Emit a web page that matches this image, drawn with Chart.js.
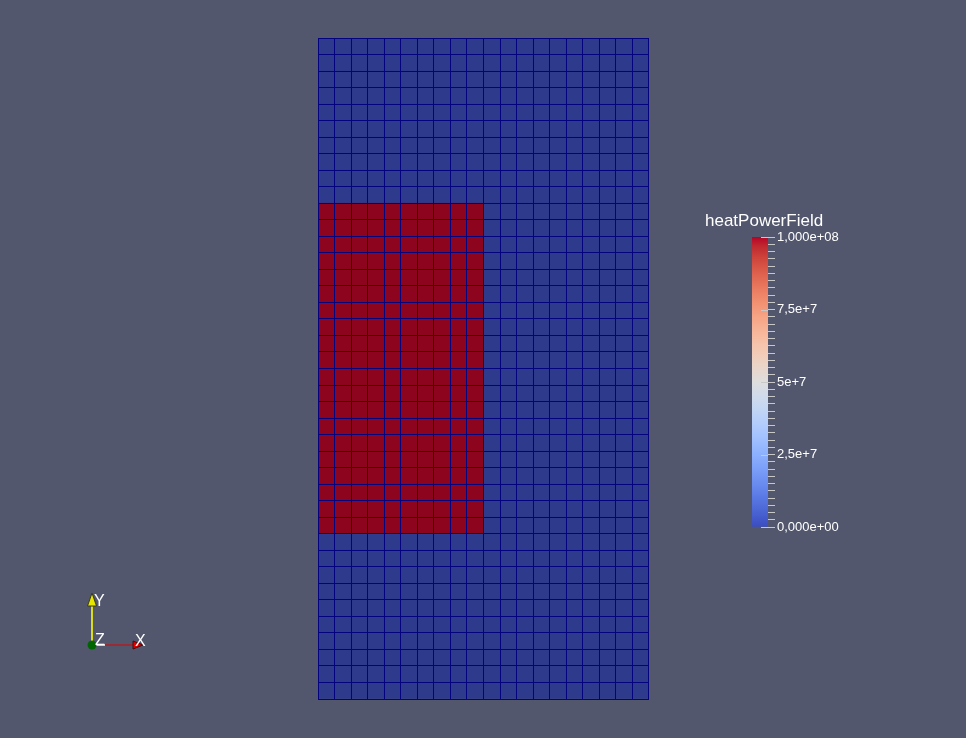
<!DOCTYPE html>
<html>
<head>
<meta charset="utf-8">
<title>heatPowerField</title>
<script src="https://cdn.jsdelivr.net/npm/chart.js@4.4.1/dist/chart.umd.min.js"></script>
<style>
  html, body { margin: 0; padding: 0; background: #52576e; overflow: hidden; }
  #wrap { position: relative; width: 966px; height: 738px; }
  canvas { position: absolute; left: 0; top: 0; }
</style>
</head>
<body>
<div id="wrap">
  <canvas id="meshChart" width="966" height="738"></canvas>
  <canvas id="barChart" width="966" height="738"></canvas>
</div>
<script>
// mesh columns (x cells), left to right
const columns = ['1', '2', '3', '4', '5', '6', '7', '8', '9', '10',
                 '11', '12', '13', '14', '15', '16', '17', '18', '19', '20'];

// heatPowerField per cell, rows listed from top to bottom
const H = 1e8;
const heatRows = [
  [0, 0, 0, 0, 0, 0, 0, 0, 0, 0, 0, 0, 0, 0, 0, 0, 0, 0, 0, 0],
  [0, 0, 0, 0, 0, 0, 0, 0, 0, 0, 0, 0, 0, 0, 0, 0, 0, 0, 0, 0],
  [0, 0, 0, 0, 0, 0, 0, 0, 0, 0, 0, 0, 0, 0, 0, 0, 0, 0, 0, 0],
  [0, 0, 0, 0, 0, 0, 0, 0, 0, 0, 0, 0, 0, 0, 0, 0, 0, 0, 0, 0],
  [0, 0, 0, 0, 0, 0, 0, 0, 0, 0, 0, 0, 0, 0, 0, 0, 0, 0, 0, 0],
  [0, 0, 0, 0, 0, 0, 0, 0, 0, 0, 0, 0, 0, 0, 0, 0, 0, 0, 0, 0],
  [0, 0, 0, 0, 0, 0, 0, 0, 0, 0, 0, 0, 0, 0, 0, 0, 0, 0, 0, 0],
  [0, 0, 0, 0, 0, 0, 0, 0, 0, 0, 0, 0, 0, 0, 0, 0, 0, 0, 0, 0],
  [0, 0, 0, 0, 0, 0, 0, 0, 0, 0, 0, 0, 0, 0, 0, 0, 0, 0, 0, 0],
  [0, 0, 0, 0, 0, 0, 0, 0, 0, 0, 0, 0, 0, 0, 0, 0, 0, 0, 0, 0],
  [H, H, H, H, H, H, H, H, H, H, 0, 0, 0, 0, 0, 0, 0, 0, 0, 0],
  [H, H, H, H, H, H, H, H, H, H, 0, 0, 0, 0, 0, 0, 0, 0, 0, 0],
  [H, H, H, H, H, H, H, H, H, H, 0, 0, 0, 0, 0, 0, 0, 0, 0, 0],
  [H, H, H, H, H, H, H, H, H, H, 0, 0, 0, 0, 0, 0, 0, 0, 0, 0],
  [H, H, H, H, H, H, H, H, H, H, 0, 0, 0, 0, 0, 0, 0, 0, 0, 0],
  [H, H, H, H, H, H, H, H, H, H, 0, 0, 0, 0, 0, 0, 0, 0, 0, 0],
  [H, H, H, H, H, H, H, H, H, H, 0, 0, 0, 0, 0, 0, 0, 0, 0, 0],
  [H, H, H, H, H, H, H, H, H, H, 0, 0, 0, 0, 0, 0, 0, 0, 0, 0],
  [H, H, H, H, H, H, H, H, H, H, 0, 0, 0, 0, 0, 0, 0, 0, 0, 0],
  [H, H, H, H, H, H, H, H, H, H, 0, 0, 0, 0, 0, 0, 0, 0, 0, 0],
  [H, H, H, H, H, H, H, H, H, H, 0, 0, 0, 0, 0, 0, 0, 0, 0, 0],
  [H, H, H, H, H, H, H, H, H, H, 0, 0, 0, 0, 0, 0, 0, 0, 0, 0],
  [H, H, H, H, H, H, H, H, H, H, 0, 0, 0, 0, 0, 0, 0, 0, 0, 0],
  [H, H, H, H, H, H, H, H, H, H, 0, 0, 0, 0, 0, 0, 0, 0, 0, 0],
  [H, H, H, H, H, H, H, H, H, H, 0, 0, 0, 0, 0, 0, 0, 0, 0, 0],
  [H, H, H, H, H, H, H, H, H, H, 0, 0, 0, 0, 0, 0, 0, 0, 0, 0],
  [H, H, H, H, H, H, H, H, H, H, 0, 0, 0, 0, 0, 0, 0, 0, 0, 0],
  [H, H, H, H, H, H, H, H, H, H, 0, 0, 0, 0, 0, 0, 0, 0, 0, 0],
  [H, H, H, H, H, H, H, H, H, H, 0, 0, 0, 0, 0, 0, 0, 0, 0, 0],
  [H, H, H, H, H, H, H, H, H, H, 0, 0, 0, 0, 0, 0, 0, 0, 0, 0],
  [0, 0, 0, 0, 0, 0, 0, 0, 0, 0, 0, 0, 0, 0, 0, 0, 0, 0, 0, 0],
  [0, 0, 0, 0, 0, 0, 0, 0, 0, 0, 0, 0, 0, 0, 0, 0, 0, 0, 0, 0],
  [0, 0, 0, 0, 0, 0, 0, 0, 0, 0, 0, 0, 0, 0, 0, 0, 0, 0, 0, 0],
  [0, 0, 0, 0, 0, 0, 0, 0, 0, 0, 0, 0, 0, 0, 0, 0, 0, 0, 0, 0],
  [0, 0, 0, 0, 0, 0, 0, 0, 0, 0, 0, 0, 0, 0, 0, 0, 0, 0, 0, 0],
  [0, 0, 0, 0, 0, 0, 0, 0, 0, 0, 0, 0, 0, 0, 0, 0, 0, 0, 0, 0],
  [0, 0, 0, 0, 0, 0, 0, 0, 0, 0, 0, 0, 0, 0, 0, 0, 0, 0, 0, 0],
  [0, 0, 0, 0, 0, 0, 0, 0, 0, 0, 0, 0, 0, 0, 0, 0, 0, 0, 0, 0],
  [0, 0, 0, 0, 0, 0, 0, 0, 0, 0, 0, 0, 0, 0, 0, 0, 0, 0, 0, 0],
  [0, 0, 0, 0, 0, 0, 0, 0, 0, 0, 0, 0, 0, 0, 0, 0, 0, 0, 0, 0]
];

// colour bar range and labels
const fieldMin = 0;
const fieldMax = 1e8;
const barTickValues = [0, 2.5e7, 5e7, 7.5e7, 1e8];
const barTickLabels = ['0,000e+00', '2,5e+7', '5e+7', '7,5e+7', '1,000e+08'];

// cool to warm colour map (shaded cells use the darker pair below)
const coolWarm = [
  [59, 76, 192], [68, 90, 204], [77, 104, 215], [87, 117, 225], [98, 130, 234],
  [108, 142, 241], [119, 154, 247], [130, 165, 251], [141, 176, 254], [152, 185, 255],
  [163, 194, 255], [174, 201, 253], [184, 208, 249], [194, 213, 244], [204, 217, 238],
  [213, 219, 230], [221, 221, 221], [229, 216, 209], [236, 211, 197], [241, 204, 185],
  [245, 196, 173], [247, 187, 160], [247, 177, 148], [247, 166, 135], [244, 154, 123],
  [241, 141, 111], [236, 127, 99], [229, 112, 88], [222, 96, 77], [213, 80, 66],
  [203, 62, 56], [192, 40, 47], [180, 4, 38]
];
const cellLow = [46, 58, 140];
const cellHigh = [140, 4, 30];

function cellColor(v) {
  const t = (v - fieldMin) / (fieldMax - fieldMin);
  const c = cellLow.map((lo, i) => Math.round(lo + (cellHigh[i] - lo) * t));
  return 'rgb(' + c.join(',') + ')';
}

// one stacked dataset per mesh row, bottom row first
const meshDatasets = heatRows.slice().reverse().map((row, i) => ({
  label: 'row ' + (i + 1),
  data: row.map(() => 1),
  backgroundColor: row.map(cellColor),
  borderWidth: 0,
  barPercentage: 1,
  categoryPercentage: 1
}));

// little orientation glyph in the lower left corner
const axesGlyph = {
  id: 'axesGlyph',
  afterDraw(chart) {
    const ctx = chart.ctx;
    const ox = 92, oy = 645;
    ctx.save();
    ctx.lineWidth = 1.6;
    ctx.strokeStyle = '#ffff00';
    ctx.beginPath(); ctx.moveTo(ox, oy); ctx.lineTo(ox, 600); ctx.stroke();
    ctx.fillStyle = '#e6e600';
    ctx.strokeStyle = '#3c3c14';
    ctx.lineWidth = 1;
    ctx.beginPath(); ctx.moveTo(ox, 593); ctx.lineTo(ox - 4.5, 606); ctx.lineTo(ox + 4.5, 606); ctx.closePath();
    ctx.fill(); ctx.stroke();

    ctx.strokeStyle = '#e00000';
    ctx.lineWidth = 1.2;
    ctx.beginPath(); ctx.moveTo(ox, oy); ctx.lineTo(134, oy); ctx.stroke();
    ctx.fillStyle = '#e00000';
    ctx.strokeStyle = '#4a0a0a';
    ctx.lineWidth = 1;
    ctx.beginPath(); ctx.moveTo(143, oy); ctx.lineTo(133, oy - 4); ctx.lineTo(133, oy + 4); ctx.closePath();
    ctx.fill(); ctx.stroke();

    ctx.strokeStyle = '#ffffff';
    ctx.lineWidth = 1.5;
    ctx.beginPath(); ctx.moveTo(ox, oy); ctx.lineTo(105, oy); ctx.stroke();

    ctx.fillStyle = '#006400';
    ctx.beginPath(); ctx.arc(ox, oy, 4.5, 0, Math.PI * 2); ctx.fill();

    ctx.fillStyle = '#ffffff';
    ctx.font = '16px "Liberation Sans", Arial, sans-serif';
    ctx.textBaseline = 'alphabetic';
    ctx.fillText('Y', 94, 606);
    ctx.fillText('Z', 95, 645);
    ctx.fillText('X', 135, 646);
    ctx.restore();
  }
};

new Chart(document.getElementById('meshChart'), {
  type: 'bar',
  data: { labels: columns, datasets: meshDatasets },
  options: {
    responsive: false,
    animation: false,
    devicePixelRatio: 1,
    layout: { padding: { left: 318, right: 317, top: 38, bottom: 39 } },
    plugins: { legend: { display: false }, tooltip: { enabled: false } },
    scales: {
      x: {
        stacked: true,
        offset: true,
        ticks: { display: false },
        border: { display: false },
        grid: { offset: true, color: '#03037f', lineWidth: 1, drawTicks: false, z: 1 }
      },
      y: {
        stacked: true,
        min: 0,
        max: heatRows.length,
        ticks: { display: false, stepSize: 1 },
        border: { display: false },
        grid: { color: '#03037f', lineWidth: 1, drawTicks: false, z: 1 }
      }
    }
  },
  plugins: [axesGlyph]
});

// colour bar: title and the longer marks at the labelled values
const barDecor = {
  id: 'barDecor',
  afterDraw(chart) {
    const ctx = chart.ctx;
    const scale = chart.scales.y;
    const right = chart.chartArea.right;
    ctx.save();
    ctx.strokeStyle = '#c8c8c8';
    ctx.lineWidth = 1;
    barTickValues.forEach(v => {
      const y = Math.round(scale.getPixelForValue(v)) + 0.5;
      ctx.beginPath(); ctx.moveTo(right - 7, y); ctx.lineTo(right, y); ctx.stroke();
    });
    ctx.fillStyle = '#ffffff';
    ctx.font = '17px "Liberation Sans", Arial, sans-serif';
    ctx.textBaseline = 'alphabetic';
    ctx.fillText('heatPowerField', 705, 226);
    ctx.restore();
  }
};

new Chart(document.getElementById('barChart'), {
  type: 'bar',
  data: {
    labels: ['heatPowerField'],
    datasets: [{
      data: [fieldMax],
      borderWidth: 0,
      barPercentage: 1,
      categoryPercentage: 1,
      backgroundColor(context) {
        const area = context.chart.chartArea;
        if (!area) return null;
        const g = context.chart.ctx.createLinearGradient(0, area.bottom, 0, area.top);
        coolWarm.forEach((c, i) => g.addColorStop(i / (coolWarm.length - 1), 'rgb(' + c.join(',') + ')'));
        return g;
      }
    }]
  },
  options: {
    responsive: false,
    animation: false,
    devicePixelRatio: 1,
    layout: { padding: { left: 752, right: 98, top: 237, bottom: 211 } },
    plugins: { legend: { display: false }, tooltip: { enabled: false } },
    scales: {
      x: { display: false },
      y: {
        position: 'right',
        min: fieldMin,
        max: fieldMax,
        afterFit(scale) { scale.width = 100; },
        border: { display: false },
        grid: { drawOnChartArea: false, color: '#c8c8c8', tickLength: 7, lineWidth: 1 },
        ticks: {
          stepSize: 2.5e6,
          autoSkip: false,
          padding: 2,
          color: '#ffffff',
          font: { family: '"Liberation Sans", Arial, sans-serif', size: 13 },
          callback(v) {
            const i = barTickValues.findIndex(t => Math.abs(t - v) < 1);
            return i >= 0 ? barTickLabels[i] : '';
          }
        }
      }
    }
  },
  plugins: [barDecor]
});
</script>
</body>
</html>
